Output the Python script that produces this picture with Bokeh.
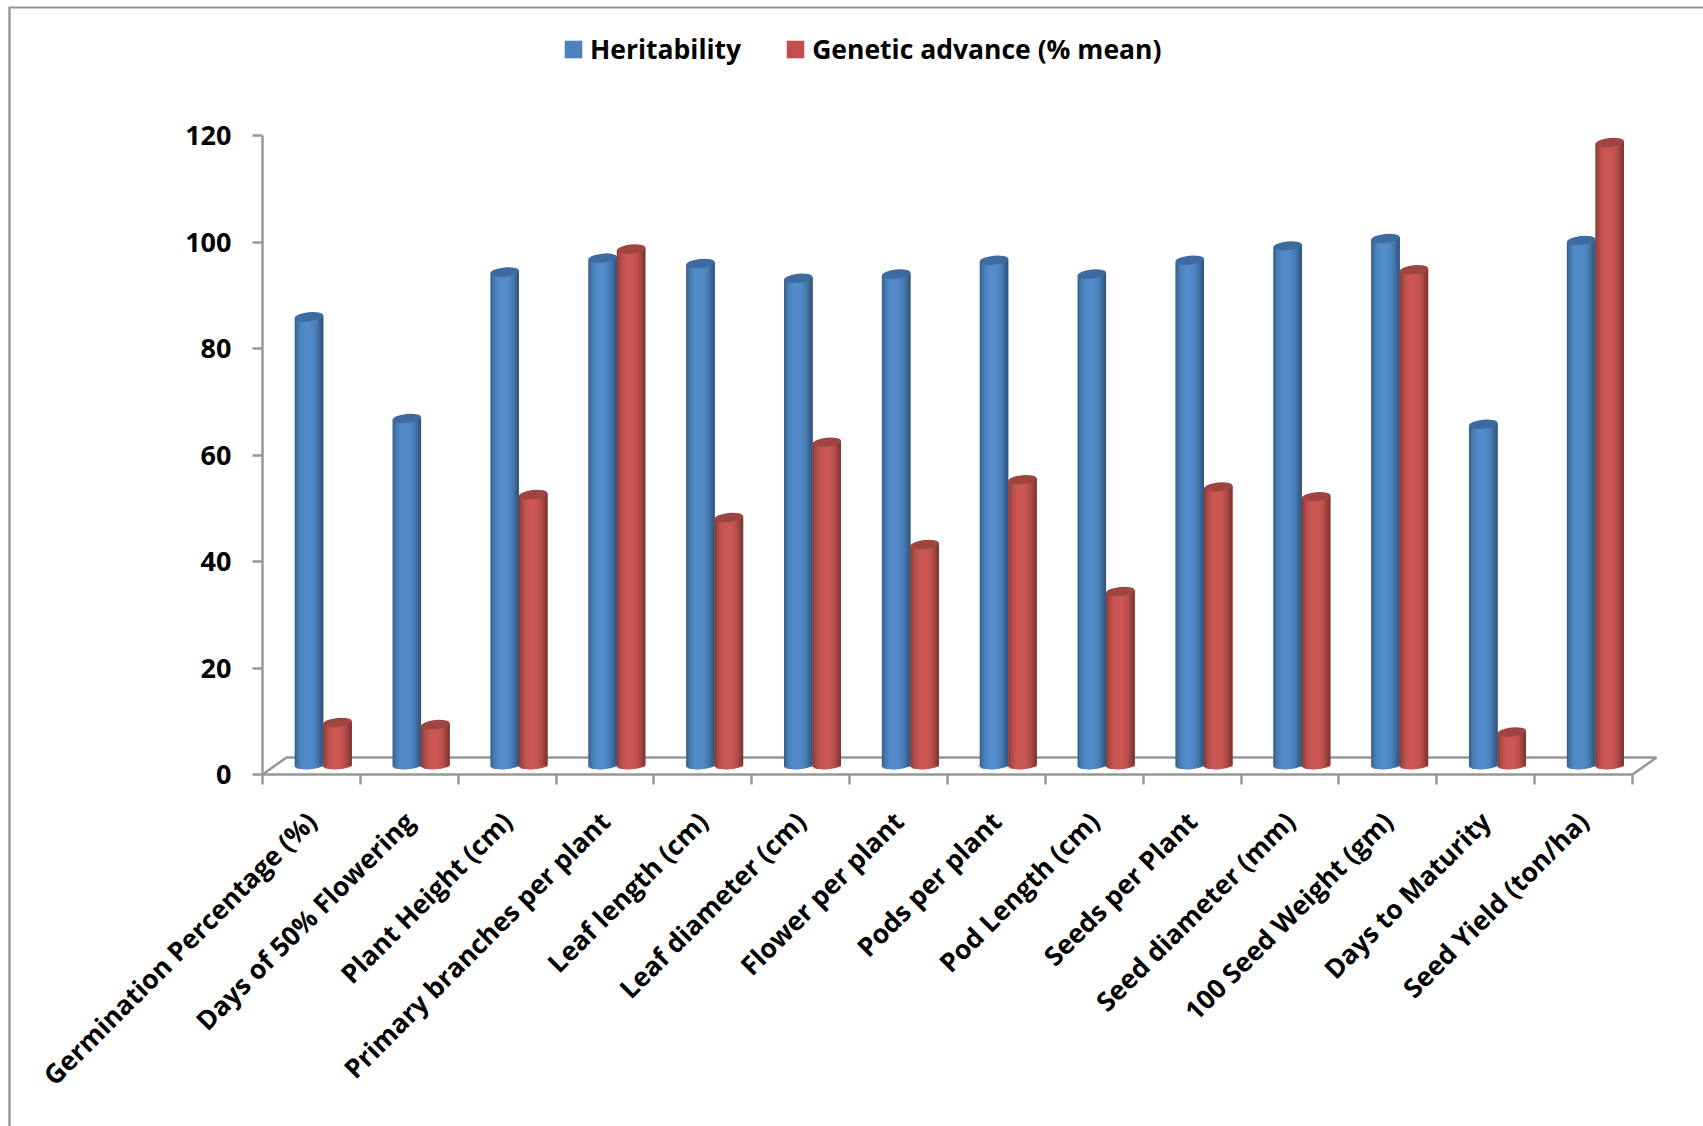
import math
import numpy as np
from bokeh.embed import file_html
from bokeh.resources import INLINE
from bokeh.models import ColumnDataSource, FixedTicker, Legend, LegendItem
from bokeh.plotting import figure

# Trait names and the two measured series
categories = [
    "Germination Percentage (%)", "Days of 50% Flowering", "Plant Height (cm)",
    "Primary branches per plant", "Leaf length (cm)", "Leaf diameter (cm)",
    "Flower per plant", "Pods per plant", "Pod Length (cm)", "Seeds per Plant",
    "Seed diameter (mm)", "100 Seed Weight (gm)", "Days to Maturity",
    "Seed Yield (ton/ha)",
]
heritability = [84.1, 65.0, 92.5, 95.1, 94.1, 91.3, 92.1, 94.7, 92.1, 94.7, 97.4, 98.8, 63.9, 98.4]
genetic_advance = [7.9, 7.5, 50.7, 96.8, 46.4, 60.5, 41.3, 53.5, 32.5, 52.1, 50.3, 92.9, 6.1, 116.8]
y_ticks = [0, 20, 40, 60, 80, 100, 120]

# Page geometry
W, H = 1703, 1126
AXIS_LEFT, AXIS_RIGHT = 262, 1632
AXIS_ZERO, AXIS_TOP = 774, 135
CAT_PX = (AXIS_RIGHT - AXIS_LEFT) / len(categories)
VAL_PX = (AXIS_ZERO - AXIS_TOP) / 120

GREY = "#979797"
FONT = "Open Sans"
TICK_PX = "27px"
FONT_PX = "26.5px"


def dx(px):
    return px / CAT_PX


def dy(px):
    return px / VAL_PX


p = figure(
    width=W, height=H, output_backend="svg", toolbar_location=None,
    x_range=(-dx(AXIS_LEFT), dx(W - AXIS_LEFT)),
    y_range=(-dy(H - AXIS_ZERO), dy(AXIS_ZERO)),
    min_border=0, background_fill_color="white", border_fill_color="white",
    outline_line_color=None,
)
p.grid.visible = False

# Open-sided frame around the chart area
p.line([dx(8 - AXIS_LEFT), dx(W - AXIS_LEFT)], [dy(AXIS_ZERO - 7)] * 2, line_color=GREY, line_width=2)
p.line([dx(9 - AXIS_LEFT)] * 2, [dy(AXIS_ZERO - 7), -dy(H - AXIS_ZERO)], line_color=GREY, line_width=2.5)

# Floor of the 3D box, behind the bars
DEPTH_X, DEPTH_Y = dx(24), dy(17)
n = len(categories)
p.line([0, DEPTH_X, n + DEPTH_X, n], [0, DEPTH_Y, DEPTH_Y, 0], line_color=GREY, line_width=2.5)

# Cylinders: overlapping vertical strips give the round shading, the cap sits on top
BODY_W = dx(28.5)
CAP_H_PX = 9
LIFT = dy(10)
TILT = dy(1.5)
blue_shades = ["#3a6291", "#41709f", "#4779b0", "#4b80ba", "#4e85c1", "#5088c6", "#528bc9", "#538ccb", "#538ccb",
               "#538ccb", "#528bc9", "#5088c6", "#4e85c1", "#4c81bb", "#497bb3", "#4473a8", "#3e6a9b", "#37608c", "#325783"]
red_shades = ["#8f3a38", "#a04542", "#ae4b48", "#b84f4c", "#c05350", "#c65552", "#ca5755", "#cc5856", "#cc5856",
              "#cc5856", "#cb5755", "#c85653", "#c45451", "#be514e", "#b64e4b", "#aa4946", "#9c4340", "#8e3c3a", "#843533"]
STRIPS = len(blue_shades)


def cylinder(values, offset_px, shades, cap_color, base_color):
    vals = np.array(values, dtype=float)
    centres = np.arange(n) + 0.5 + dx(offset_px)
    step = BODY_W / STRIPS
    cols = {"left": [], "right": [], "top": [], "bottom": [], "color": []}
    for k in range(STRIPS):
        u = -1 + (2 * k + 1) / STRIPS
        drop = dy(CAP_H_PX / 2) * math.sqrt(max(0.0, 1 - u * u))
        cols["left"] += list(centres - BODY_W / 2 + k * step)
        cols["right"] += list(centres - BODY_W / 2 + min(k + 3, STRIPS) * step)
        cols["top"] += list(vals + LIFT + TILT * u)
        cols["bottom"] += [LIFT - drop + TILT * u] * n
        cols["color"] += [shades[k]] * n
    p.quad(left="left", right="right", top="top", bottom="bottom", source=ColumnDataSource(cols),
           fill_color="color", line_color=None)
    p.ellipse(x=list(centres), y=list(vals + LIFT),
              width=BODY_W * CAT_PX, height=CAP_H_PX, width_units="screen", height_units="screen",
              angle=math.atan2(3, 28.5), fill_color=cap_color, line_color=None)
    return p.vbar(x=[float("nan")], top=[float("nan")], width=0.1, fill_color=base_color, line_color=None)


blue_key = cylinder(heritability, -2.5, blue_shades, "#3d6a9f", "#4f81bd")
red_key = cylinder(genetic_advance, 26, red_shades, "#9e4441", "#c0504d")

# Axes run through the zero lines of the value and category scales
p.yaxis.fixed_location = 0
p.yaxis.bounds = (0, 120)
p.yaxis.ticker = FixedTicker(ticks=y_ticks)
p.yaxis.major_tick_in = 0
p.yaxis.major_tick_out = 10
p.yaxis.minor_tick_line_color = None
p.yaxis.axis_line_color = GREY
p.yaxis.axis_line_width = 2.5
p.yaxis.major_tick_line_color = GREY
p.yaxis.major_tick_line_width = 2.5
p.yaxis.major_label_standoff = 21
p.yaxis.major_label_text_font = FONT
p.yaxis.major_label_text_font_style = "bold"
p.yaxis.major_label_text_font_size = TICK_PX
p.yaxis.major_label_text_color = "black"

centres = [i + 0.5 for i in range(n)]
p.xaxis.fixed_location = 0
p.xaxis.bounds = (0, n)
p.xaxis.ticker = FixedTicker(ticks=centres, minor_ticks=list(range(n + 1)))
p.xaxis.major_label_overrides = dict(zip(centres, categories))
p.xaxis.major_label_orientation = math.pi / 4
p.xaxis.major_tick_in = 0
p.xaxis.major_tick_out = 0
p.xaxis.major_tick_line_color = None
p.xaxis.minor_tick_in = 0
p.xaxis.minor_tick_out = 10
p.xaxis.minor_tick_line_color = GREY
p.xaxis.minor_tick_line_width = 2.5
p.xaxis.axis_line_color = GREY
p.xaxis.axis_line_width = 2.5
p.xaxis.major_label_standoff = 32
p.xaxis.major_label_text_font = FONT
p.xaxis.major_label_text_font_style = "bold"
p.xaxis.major_label_text_font_size = FONT_PX
p.xaxis.major_label_text_color = "black"

legend = Legend(
    items=[LegendItem(label="Heritability", renderers=[blue_key]),
           LegendItem(label="Genetic advance (% mean)", renderers=[red_key])],
    orientation="horizontal", location=(562, H - 67), padding=0, margin=0, spacing=43,
    glyph_width=22, glyph_height=22, label_standoff=6, label_height=22,
    border_line_color=None, background_fill_alpha=0,
    label_text_font=FONT, label_text_font_style="bold", label_text_font_size=FONT_PX,
    label_text_color="black",
)
p.add_layout(legend)

open("out.html", "w").write(file_html(p, INLINE))
